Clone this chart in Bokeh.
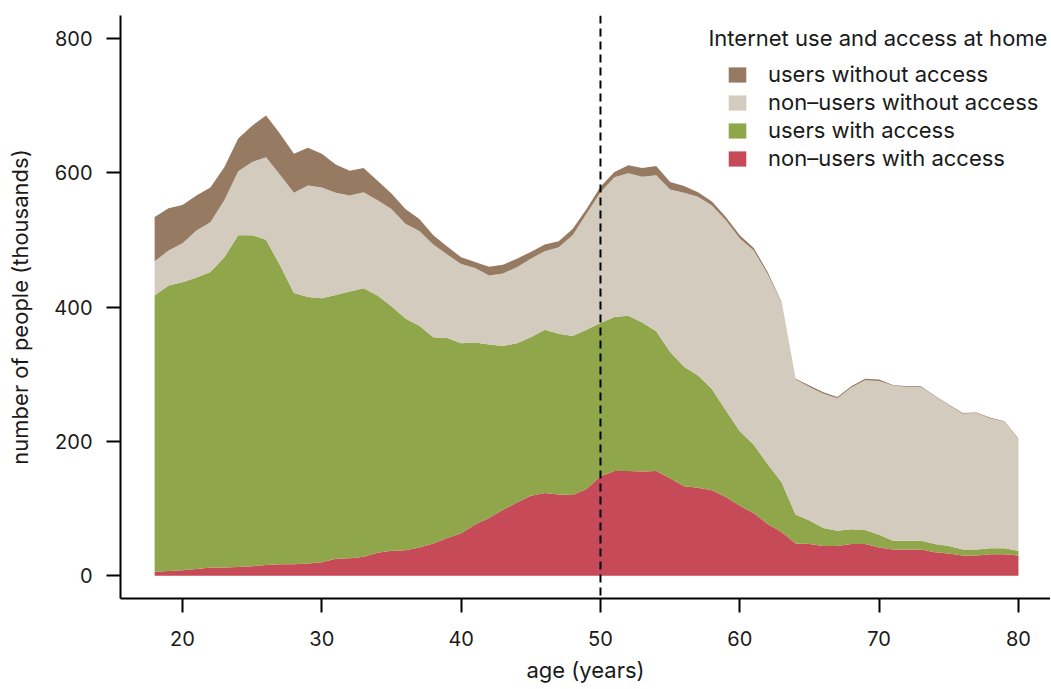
from bokeh.plotting import figure
from bokeh.models import (Span, Legend, LegendItem, ColumnDataSource, Range1d,
                          FixedTicker, Label)
from bokeh.embed import file_html
from bokeh.resources import INLINE

age = list(range(18, 81))
non_users_with_access = [6, 7, 8, 10, 12, 12, 13, 14, 16, 17, 17, 18, 20, 25, 26, 28, 34, 37, 38, 42,
                         48, 56, 63, 76, 86, 98, 109, 119, 123, 121, 120, 129, 148, 156, 156, 155, 156,
                         145, 133, 131, 127, 117, 104, 93, 77, 65, 48, 47, 44, 44, 47, 47, 42, 39, 39,
                         39, 35, 33, 30, 30, 32, 32, 30]
users_with_access = [411, 425, 429, 434, 440, 462, 494, 493, 484, 445, 404, 397, 393, 393, 397, 400,
                     383, 364, 345, 330, 307, 298, 283, 271, 258, 244, 237, 236, 243, 239, 237, 237,
                     228, 229, 231, 222, 208, 188, 178, 167, 151, 129, 111, 102, 89, 74, 43, 35, 27,
                     23, 22, 21, 19, 13, 13, 13, 12, 11, 9, 9, 9, 9, 7]
non_users_without_access = [51, 52, 58, 70, 74, 85, 95, 109, 123, 135, 149, 166, 165, 152, 143, 143,
                            142, 145, 141, 141, 138, 124, 118, 111, 103, 108, 113, 117, 117, 129, 150,
                            173, 195, 208, 212, 217, 232, 242, 259, 266, 273, 283, 287, 289, 283, 267,
                            201, 199, 200, 197, 211, 223, 229, 231, 229, 229, 220, 210, 202, 203, 193,
                            188, 166]
users_without_access = [66, 63, 57, 52, 52, 49, 49, 54, 62, 61, 58, 56, 50, 42, 37, 36, 29, 23, 22, 18,
                        14, 12, 10, 9, 13, 13, 13, 10, 10, 9, 9, 7, 8, 8, 12, 13, 14, 11, 10, 7, 6, 5,
                        5, 4, 3, 1, 1, 2, 2, 2, 2, 2, 2, 1, 1, 1, 1, 1, 1, 1, 1, 1, 1]

x_ticks = [20, 30, 40, 50, 60, 70, 80]
y_ticks = [0, 200, 400, 600, 800]

keys = ["non_users_with_access", "users_with_access", "non_users_without_access", "users_without_access"]
labels = ["non\u2013users with access", "users with access", "non\u2013users without access",
          "users without access"]
colors = ["#C64A58", "#8FA64B", "#D3CBBE", "#967A62"]

src = ColumnDataSource(dict(age=age,
                            non_users_with_access=non_users_with_access,
                            users_with_access=users_with_access,
                            non_users_without_access=non_users_without_access,
                            users_without_access=users_without_access))

FONT = "Inter"
TXT = "#1a1a1a"

p = figure(width=1050, height=689, output_backend="svg", toolbar_location=None,
           x_range=Range1d(15.55, 82.30), y_range=Range1d(-34, 834),
           min_border_left=120, min_border_top=15, min_border_right=0, min_border_bottom=91)
p.grid.visible = False
p.outline_line_color = None
p.background_fill_color = "white"

rs = p.varea_stack(stackers=keys, x="age", color=colors, source=src)

p.add_layout(Span(location=50, dimension="height", line_color="black", line_width=2,
                  line_dash="8 5"))

for ax in (p.xaxis[0], p.yaxis[0]):
    ax.axis_line_width = 2
    ax.axis_line_color = "black"
    ax.major_tick_line_width = 2
    ax.major_tick_line_color = "black"
    ax.major_tick_out = 14
    ax.major_tick_in = 0
    ax.minor_tick_out = 0
    ax.minor_tick_in = 0
    ax.major_label_text_font = FONT
    ax.major_label_text_font_size = "20px"
    ax.major_label_text_color = TXT
    ax.axis_label_text_font = FONT
    ax.axis_label_text_font_size = "22px"
    ax.axis_label_text_font_style = "normal"
    ax.axis_label_text_color = TXT

p.xaxis.ticker = FixedTicker(ticks=x_ticks)
p.yaxis.ticker = FixedTicker(ticks=y_ticks)
p.xaxis.axis_label = "age (years)"
p.yaxis.axis_label = "number of people (thousands)"
p.xaxis.major_label_standoff = 18
p.xaxis.axis_label_standoff = 8
p.yaxis.major_label_standoff = 14
p.yaxis.axis_label_standoff = 18

items = [LegendItem(label=labels[i], renderers=[rs[i]]) for i in [3, 2, 1, 0]]
legend = Legend(items=items, location=(606, 426), padding=0, margin=0, spacing=0,
                glyph_width=22, glyph_height=19, label_height=28, label_standoff=20,
                label_text_font=FONT, label_text_font_size="22px", label_text_color=TXT,
                border_line_alpha=0, background_fill_alpha=0)
p.add_layout(legend)

p.add_layout(Label(x=57.75, y=800, text="Internet use and access at home", text_font=FONT,
                   text_font_size="22px", text_color=TXT, text_baseline="middle"))

open("out.html", "w").write(file_html(p, INLINE))
